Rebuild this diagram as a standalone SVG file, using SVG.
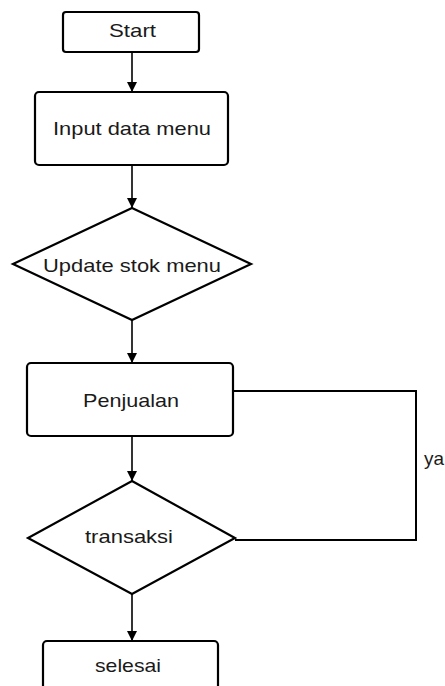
<svg xmlns="http://www.w3.org/2000/svg" width="445" height="686" viewBox="0 0 445 686">
<style>
.box{fill:#fff;stroke:#000;stroke-width:2.2}
.dia{fill:#fff;stroke:#000;stroke-width:2.2;stroke-linejoin:miter}
.con{fill:none;stroke:#000;stroke-width:1.6}
.t{font-family:"Liberation Sans",Arial,sans-serif;font-size:19px;fill:#1a1a1a;text-anchor:middle}
</style>
<defs>
<marker id="arr" viewBox="0 0 10 10" refX="10" refY="5" markerWidth="10" markerHeight="10" markerUnits="userSpaceOnUse" orient="auto">
<path d="M0,0 L10,5 L0,10 Z" fill="#000"/>
</marker>
</defs>
<rect width="445" height="686" fill="#fff"/>
<g id="connectors">
<line class="con" x1="132" y1="52" x2="132" y2="92" marker-end="url(#arr)"/>
<line class="con" x1="132" y1="165" x2="132" y2="208" marker-end="url(#arr)"/>
<line class="con" x1="132" y1="320" x2="132" y2="363" marker-end="url(#arr)"/>
<line class="con" x1="132" y1="436" x2="132" y2="481" marker-end="url(#arr)"/>
<line class="con" x1="132" y1="594" x2="132" y2="641" marker-end="url(#arr)"/>
<polyline class="con" style="stroke-width:2" points="233,391 416,391 416,540 235,540"/>
<text class="t" x="424" y="465" style="text-anchor:start" textLength="20" lengthAdjust="spacingAndGlyphs">ya</text>
</g>
<g id="start">
<rect class="box" x="63" y="12" width="136" height="40" rx="3"/>
<text class="t" x="132.5" y="37" textLength="47" lengthAdjust="spacingAndGlyphs">Start</text>
</g>
<g id="input">
<rect class="box" x="35" y="92" width="193" height="73" rx="4"/>
<text class="t" x="132" y="135" textLength="158" lengthAdjust="spacingAndGlyphs">Input data menu</text>
</g>
<g id="update">
<polygon class="dia" points="132,208 251,264 132,320 13,264"/>
<text class="t" x="132" y="272" textLength="178" lengthAdjust="spacingAndGlyphs">Update stok menu</text>
</g>
<g id="penjualan">
<rect class="box" x="27" y="363" width="206" height="73" rx="4"/>
<text class="t" x="131" y="407" textLength="96" lengthAdjust="spacingAndGlyphs">Penjualan</text>
</g>
<g id="transaksi">
<polygon class="dia" points="132,481 235,538 132,594 28,538"/>
<text class="t" x="129" y="543" textLength="88" lengthAdjust="spacingAndGlyphs">transaksi</text>
</g>
<g id="selesai">
<rect class="box" x="43" y="641" width="175" height="70" rx="4"/>
<text class="t" x="128" y="672" textLength="66" lengthAdjust="spacingAndGlyphs">selesai</text>
</g>
</svg>
